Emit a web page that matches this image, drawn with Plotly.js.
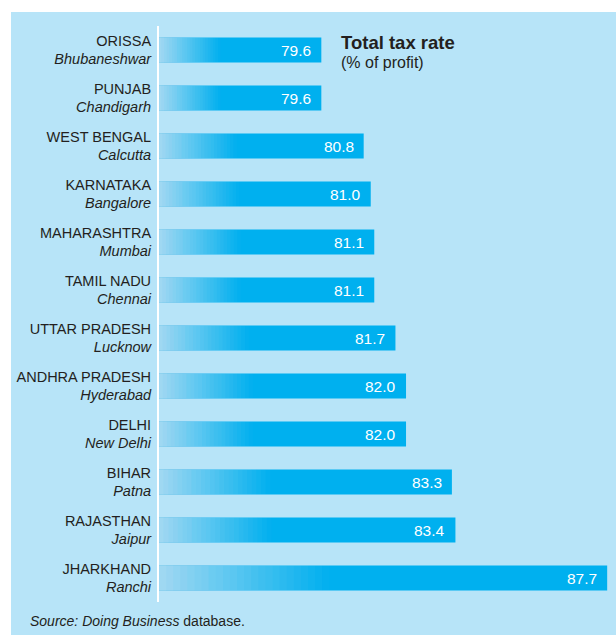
<!DOCTYPE html>
<html>
<head>
<meta charset="utf-8">
<script src="https://cdn.plot.ly/plotly-3.0.1.min.js"></script>
<style>html,body{margin:0;padding:0;background:#fff;}#chart{width:616px;height:635px;}</style>
</head>
<body>
<div id="chart"></div>
<script>
// ---- data ----
const states = ["ORISSA","PUNJAB","WEST BENGAL","KARNATAKA","MAHARASHTRA","TAMIL NADU","UTTAR PRADESH","ANDHRA PRADESH","DELHI","BIHAR","RAJASTHAN","JHARKHAND"];
const cities = ["Bhubaneshwar","Chandigarh","Calcutta","Bangalore","Mumbai","Chennai","Lucknow","Hyderabad","New Delhi","Patna","Jaipur","Ranchi"];
const taxRate = [79.6, 79.6, 80.8, 81.0, 81.1, 81.1, 81.7, 82.0, 82.0, 83.3, 83.4, 87.7];
const chartTitle = "Total tax rate";
const chartSubtitle = "(% of profit)";
const sourceNote = "<i>Source: Doing Business</i> database.";

// ---- styling ----
const AXIS_MIN = 75, AXIS_MAX = 87.95;
const PANEL = "#b7e4f8";
const BAR = "#00b0ef";
const TEXT = "#231f20";
const FONT = "Liberation Sans, Arial, sans-serif";
const W = 616, H = 635, ML = 159, MR = 0, MT = 26, MB = 33;
const PW = W - ML - MR, PH = H - MT - MB;
const px2x = p => (p - ML) / PW;
const py2y = p => 1 - (p - MT) / PH;

const traces = [];
traces.push({
  type: "bar", orientation: "h", y: states, x: taxRate,
  marker: {color: BAR, line: {width: 0}}, width: 0.52,
  hoverinfo: "skip", showlegend: false
});
// gradient overlay (stepped), lightening the start of each bar
const N = 24, L = 0.38, A0 = 0.92;
const target = j => A0 * (1 - (j - 0.5) / N);
for (let j = 1; j <= N; j++) {
  const tj = target(j), tn = j < N ? target(j + 1) : 0;
  const a = 1 - (1 - tj) / (1 - tn);
  const f = L * j / N;
  traces.push({
    type: "bar", orientation: "h", y: states,
    x: taxRate.map(v => AXIS_MIN + f * (v - AXIS_MIN)),
    marker: {color: `rgba(183,228,248,${a.toFixed(4)})`, line: {width: 0}}, width: 0.52,
    hoverinfo: "skip", showlegend: false
  });
}

const annotations = states.map((s, i) => ({
  x: taxRate[i], y: s, xref: "x", yref: "y", text: taxRate[i].toFixed(1),
  xanchor: "right", yanchor: "middle", xshift: -8, showarrow: false,
  font: {family: FONT, size: 15.5, color: "#ffffff"}
}));
annotations.push({
  xref: "paper", yref: "paper", x: px2x(339), y: py2y(30), xanchor: "left", yanchor: "top",
  text: "<b>" + chartTitle + "</b>", showarrow: false, font: {family: FONT, size: 18.5, color: TEXT}
});
annotations.push({
  xref: "paper", yref: "paper", x: px2x(339), y: py2y(52), xanchor: "left", yanchor: "top",
  text: chartSubtitle, showarrow: false, font: {family: FONT, size: 16, color: TEXT}
});
annotations.push({
  xref: "paper", yref: "paper", x: px2x(28), y: py2y(611), xanchor: "left", yanchor: "top",
  text: sourceNote, showarrow: false, font: {family: FONT, size: 14, color: TEXT}
});

const layout = {
  width: W, height: H,
  margin: {l: ML, r: MR, t: MT, b: MB, pad: 0},
  paper_bgcolor: "#ffffff", plot_bgcolor: "rgba(0,0,0,0)",
  barmode: "overlay", showlegend: false,
  font: {family: FONT, color: TEXT},
  xaxis: {range: [AXIS_MIN, AXIS_MAX], showgrid: false, zeroline: false, showticklabels: false, ticks: "", showline: false, fixedrange: true},
  yaxis: {
    type: "category", categoryorder: "array", categoryarray: states, autorange: "reversed",
    tickvals: states, ticktext: states.map((s, i) => s + "<br><i>" + cities[i] + "</i>"),
    ticks: "", ticklabelstandoff: 3, showgrid: false, zeroline: false,
    showline: true, linecolor: "#ffffff", linewidth: 2,
    tickfont: {family: FONT, size: 14.5, color: TEXT}, fixedrange: true
  },
  shapes: [{
    type: "rect", xref: "paper", yref: "paper", layer: "below",
    x0: px2x(11), x1: px2x(W + 2), y0: py2y(H + 2), y1: py2y(12),
    fillcolor: PANEL, line: {width: 0}
  }],
  annotations: annotations
};

Plotly.newPlot("chart", traces, layout, {staticPlot: true, displayModeBar: false});
</script>
</body>
</html>
